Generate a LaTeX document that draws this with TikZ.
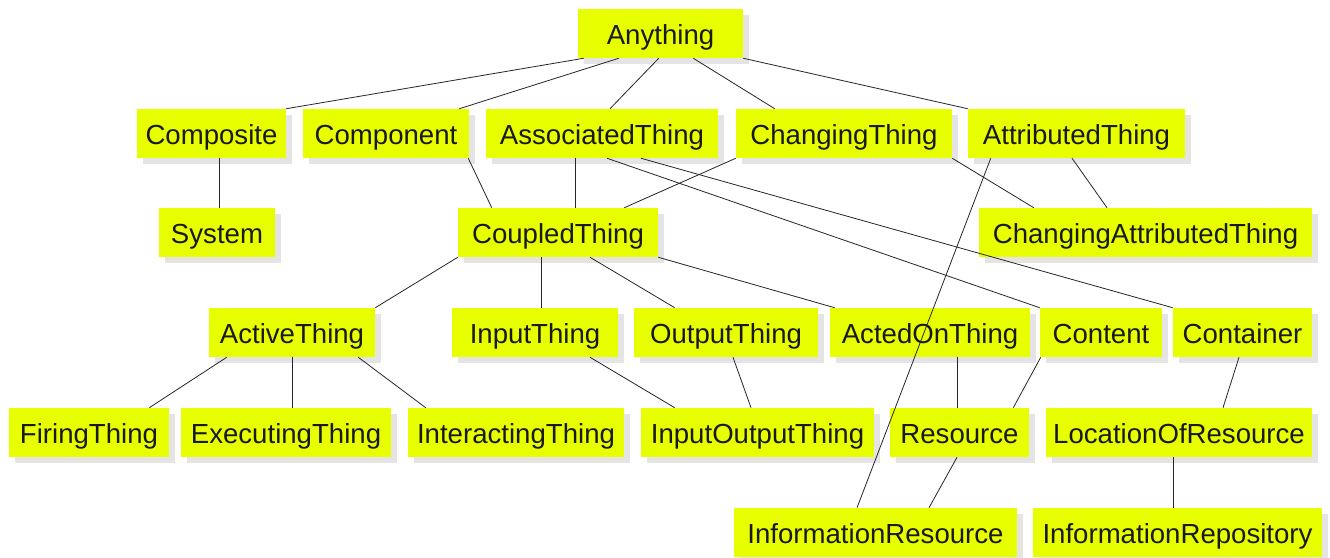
\documentclass[tikz,border=0pt]{standalone}
\usepackage{fontspec}
\setmainfont{Liberation Sans}
\usetikzlibrary{shadows}
\newdimen\px \px=0.75pt
\definecolor{thingyellow}{RGB}{232,255,0}
\definecolor{thingshadow}{RGB}{228,228,228}
\tikzset{
  thing/.style={fill=thingyellow,inner sep=0pt,minimum height=49\px,
    text height=24\px,text depth=3\px,
    font=\fontsize{20.7pt}{24pt}\selectfont,text=black!90,
    drop shadow={shadow xshift=6\px,shadow yshift=-6\px,fill=thingshadow,opacity=1}},
  link/.style={line width=0.6pt,black!85}
}
\begin{document}
\begin{tikzpicture}[x=\px,y=-\px]
   \useasboundingbox[fill=white] (0,0) rectangle (1330,557);
   % Top
   \node[thing,minimum width=165\px] (anything) at (660.5,33.5) {Anything};
   % Second row
   \node[thing,minimum width=149\px] (composite)  at (211.5,133.5) {Composite};
   \node[thing,minimum width=166\px] (component)  at (386,133.5)   {Component};
   \node[thing,minimum width=232\px] (associated) at (602,133.5)   {AssociatedThing};
   \node[thing,minimum width=216\px] (changing)   at (844,133.5)   {ChangingThing};
   \node[thing,minimum width=217\px] (attributed) at (1076.5,133.5) {AttributedThing};
   % Third row
   \node[thing,minimum width=116\px] (system)       at (217,232.5)    {System};
   \node[thing,minimum width=200\px] (coupled)      at (558,232.5)    {CoupledThing};
   \node[thing,minimum width=333\px] (changingattr) at (1145.5,232.5) {ChangingAttributedThing};
   % Fourth row
   \node[thing,minimum width=166\px] (active)    at (292,332.5)    {ActiveThing};
   \node[thing,minimum width=166\px] (input)     at (535,332.5)    {InputThing};
   \node[thing,minimum width=184\px] (output)    at (726,332.5)    {OutputThing};
   \node[thing,minimum width=200\px] (actedon)   at (930,332.5)    {ActedOnThing};
   \node[thing,minimum width=122\px] (content)   at (1101,332.5)   {Content};
   \node[thing,minimum width=139\px] (container) at (1242.5,332.5) {Container};
   % Fifth row
   \node[thing,minimum width=160\px] (firing)      at (89,432.5)    {FiringThing};
   \node[thing,minimum width=210\px] (executing)   at (286,432.5)   {ExecutingThing};
   \node[thing,minimum width=216\px] (interacting) at (516,432.5)   {InteractingThing};
   \node[thing,minimum width=233\px] (inputoutput) at (757.5,432.5) {InputOutputThing};
   \node[thing,minimum width=139\px] (resource)    at (959.5,432.5) {Resource};
   \node[thing,minimum width=266\px] (location)    at (1179,432.5)  {LocationOfResource};
   % Bottom row
   \node[thing,minimum width=283\px] (inforesource) at (875.5,532.5)  {InformationResource};
   \node[thing,minimum width=289\px] (inforepo)     at (1177.5,532.5) {InformationRepository};
   % Links from Anything
   \draw[link] ([xshift=6\px]anything.south west)  -- (composite.north east);
   \draw[link] ([xshift=41\px]anything.south west) -- ([xshift=-10\px]component.north east);
   \draw[link] ([xshift=81\px]anything.south west) -- ([xshift=8\px]associated.north);
   \draw[link] ([xshift=-50\px]anything.south east) -- ([xshift=39\px]changing.north west);
   \draw[link] (anything.south east) -- (attributed.north west);
   % Links below the second row
   \draw[link] ([xshift=7.5\px]composite.south) -- ([xshift=2\px]system.north);
   \draw[link] ([xshift=-1\px]component.south east) -- ([xshift=34\px]coupled.north west);
   \draw[link] ([xshift=-27\px]associated.south) -- ([xshift=17\px]coupled.north);
   \draw[link] (changing.south west) -- ([xshift=-34\px]coupled.north east);
   \draw[link] ([xshift=5\px]associated.south) -- (content.north west);
   \draw[link] ([xshift=39\px]associated.south) -- (container.north west);
   \draw[link] (changing.south east) -- ([xshift=55\px]changingattr.north west);
   \draw[link] ([xshift=-4.5\px]attributed.south) -- ([xshift=-38.5\px]changingattr.north);
   \draw[link] ([xshift=23\px]attributed.south west) -- ([xshift=-18.5\px]inforesource.north);
   % Links below CoupledThing
   \draw[link] (coupled.south west) -- (active.north east);
   \draw[link] ([xshift=-17\px]coupled.south) -- ([xshift=6\px]input.north);
   \draw[link] ([xshift=32\px]coupled.south) -- ([xshift=41\px]output.north west);
   \draw[link] (coupled.south east) -- ([xshift=5\px]actedon.north west);
   % Links below the fourth row
   \draw[link] ([xshift=18\px]active.south west) -- ([xshift=-20\px]firing.north east);
   \draw[link] (active.south) -- ([xshift=6\px]executing.north);
   \draw[link] ([xshift=-17\px]active.south east) -- ([xshift=18\px]interacting.north west);
   \draw[link] ([xshift=55\px]input.south) -- ([xshift=34\px]inputoutput.north west);
   \draw[link] ([xshift=7\px]output.south) -- ([xshift=-6.5\px]inputoutput.north);
   \draw[link] ([xshift=27\px]actedon.south) -- ([xshift=-2.5\px]resource.north);
   \draw[link] ([xshift=1\px]content.south west) -- ([xshift=-16\px]resource.north east);
   \draw[link] ([xshift=-3.5\px]container.south) -- ([xshift=44\px]location.north);
   % Links to the bottom row
   \draw[link] ([xshift=-2.5\px]resource.south) -- ([xshift=53.5\px]inforesource.north);
   \draw[link] ([xshift=-6\px]location.south) -- ([xshift=-4.5\px]inforepo.north);
\end{tikzpicture}
\end{document}
